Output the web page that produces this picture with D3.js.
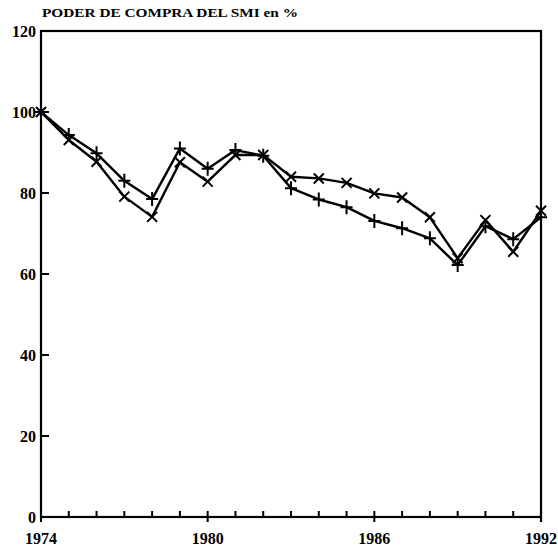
<!DOCTYPE html>
<html>
<head>
<meta charset="utf-8">
<script src="https://cdn.jsdelivr.net/npm/d3@7"></script>
<style>
  body { margin: 0; background: #fff; }
  text { font-family: "Liberation Serif", "DejaVu Serif", serif; font-weight: bold; fill: #000; }
</style>
</head>
<body>
<script>
(function () {
    'use strict';

    var years = [1974, 1975, 1976, 1977, 1978, 1979, 1980, 1981, 1982, 1983,
                 1984, 1985, 1986, 1987, 1988, 1989, 1990, 1991, 1992];
    // series drawn with "+" markers
    var plusValues = [100, 94.3, 89.8, 83.0, 78.5, 91.0, 86.0, 90.6, 89.2, 81.2,
                      78.4, 76.5, 73.1, 71.3, 68.8, 62.2, 71.8, 68.6, 74.0];
    // series drawn with "x" markers
    var crossValues = [100, 93.1, 87.7, 79.1, 74.1, 87.6, 82.8, 89.4, 89.4, 84.0,
                       83.6, 82.5, 79.9, 78.9, 74.0, 63.9, 73.3, 65.5, 75.6];
    var yTicks = [0, 20, 40, 60, 80, 100, 120];
    var xLabels = [1974, 1980, 1986, 1992];
    var title = 'PODER DE COMPRA DEL SMI en %';

    var W = 558, H = 553;
    var left = 41, right = 541, top = 31, bottom = 517;

    var svg = d3.select('body')
        .append('svg')
        .attr('width', W)
        .attr('height', H);

    var x = d3.scaleLinear().domain([1974, 1992]).range([left, right]);
    var y = d3.scaleLinear().domain([0, 120]).range([bottom, top]);

    // frame
    svg.append('rect')
        .attr('x', left)
        .attr('y', top)
        .attr('width', right - left)
        .attr('height', bottom - top)
        .attr('fill', 'none')
        .attr('stroke', '#000')
        .attr('stroke-width', 2.2);
    svg.append('line')
        .attr('x1', right).attr('x2', right)
        .attr('y1', bottom).attr('y2', bottom + 5)
        .attr('stroke', '#000').attr('stroke-width', 2.2);

    // y ticks (inward) and labels
    svg.selectAll('line.ytick')
        .data(yTicks.filter(function (d) { return d > 0 && d < 120; }))
        .enter()
        .append('line')
        .attr('class', 'ytick')
        .attr('x1', left)
        .attr('x2', left + 8)
        .attr('y1', function (d) { return y(d); })
        .attr('y2', function (d) { return y(d); })
        .attr('stroke', '#000')
        .attr('stroke-width', 2);
    svg.selectAll('text.ylab')
        .data(yTicks)
        .enter()
        .append('text')
        .attr('class', 'ylab')
        .attr('x', left - 5)
        .attr('y', function (d) { return y(d) + 6; })
        .attr('text-anchor', 'end')
        .style('font-size', '16px')
        .text(function (d) { return d; });

    // x ticks (inward), labels
    svg.selectAll('line.xtick')
        .data(years)
        .enter()
        .append('line')
        .attr('class', 'xtick')
        .attr('x1', function (d) { return x(d); })
        .attr('x2', function (d) { return x(d); })
        .attr('y1', bottom - 6)
        .attr('y2', function (d) { return xLabels.indexOf(d) >= 0 ? bottom + 5 : bottom; })
        .attr('stroke', '#000')
        .attr('stroke-width', 2);
    svg.selectAll('text.xlab')
        .data(xLabels)
        .enter()
        .append('text')
        .attr('class', 'xlab')
        .attr('x', function (d) { return x(d); })
        .attr('y', 544)
        .attr('text-anchor', 'middle')
        .style('font-size', '16px')
        .text(function (d) { return d; });

    // title
    svg.append('text')
        .attr('x', 42)
        .attr('y', 17)
        .attr('textLength', 256)
        .attr('lengthAdjust', 'spacingAndGlyphs')
        .style('font-size', '13px')
        .text(title);

    var line = d3.line()
        .x(function (d) { return x(d.year); })
        .y(function (d) { return y(d.value); });

    function series(vals) {
        return years.map(function (yr, i) { return { year: yr, value: vals[i] }; });
    }

    var plusData = series(plusValues);
    var crossData = series(crossValues);

    [plusData, crossData].forEach(function (data) {
        svg.append('path')
            .datum(data)
            .attr('d', line)
            .attr('fill', 'none')
            .attr('stroke', '#000')
            .attr('stroke-width', 2.4)
            .attr('stroke-linejoin', 'round');
    });

    var s = 6;
    svg.selectAll('path.plus')
        .data(plusData)
        .enter()
        .append('path')
        .attr('class', 'plus')
        .attr('d', function (d) {
            var cx = x(d.year), cy = y(d.value);
            return 'M' + (cx - s) + ',' + cy + 'H' + (cx + s) +
                'M' + cx + ',' + (cy - s - 1) + 'V' + (cy + s + 1);
        })
        .attr('stroke', '#000')
        .attr('stroke-width', 2);

    var c = 5;
    svg.selectAll('path.cross')
        .data(crossData)
        .enter()
        .append('path')
        .attr('class', 'cross')
        .attr('d', function (d) {
            var cx = x(d.year), cy = y(d.value);
            return 'M' + (cx - c) + ',' + (cy - c) + 'L' + (cx + c) + ',' + (cy + c) +
                'M' + (cx - c) + ',' + (cy + c) + 'L' + (cx + c) + ',' + (cy - c);
        })
        .attr('stroke', '#000')
        .attr('stroke-width', 2);
}());
</script>
</body>
</html>
